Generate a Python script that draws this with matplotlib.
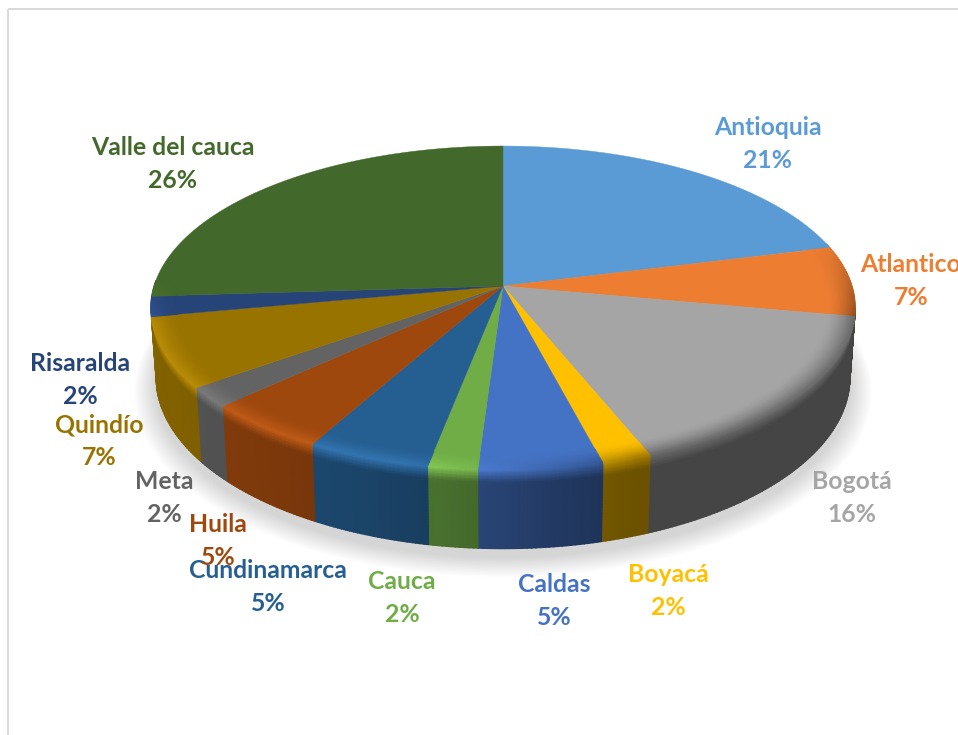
import numpy as np
import matplotlib
matplotlib.use("Agg")
import matplotlib.pyplot as plt
from matplotlib.patches import Rectangle
from matplotlib.colors import to_rgb

# departments, clockwise from 12 o'clock
departments = ["Antioquia", "Atlantico", "Bogotá", "Boyacá", "Caldas", "Cauca",
               "Cundinamarca", "Huila", "Meta", "Quindío", "Risaralda", "Valle del cauca"]
shares = [21, 7, 16, 2, 5, 2, 5, 5, 2, 7, 2, 26]

slice_colors = ["#5B9BD5", "#ED7D31", "#A5A5A5", "#FFC000", "#4472C4", "#70AD47",
                "#255E91", "#9E480E", "#636363", "#997300", "#264478", "#43682B"]

# label centres in figure pixels
label_xy = {
    "Antioquia": (768, 144), "Atlantico": (911, 281), "Bogotá": (852, 498),
    "Boyacá": (668, 591), "Caldas": (554, 601), "Cauca": (402, 598),
    "Huila": (218, 541), "Cundinamarca": (268, 587), "Meta": (164, 498),
    "Quindío": (99, 441), "Risaralda": (80, 380), "Valle del cauca": (173, 164),
}

# projection of the unit disc, tilted away from the viewer
CX, CY = 503.0, 286.0
RX, RY, TILT = 349.0, 159.0, 0.136
WALL = 68.0
BOTTOM_SCALE = 0.985
WALL_FROM, WALL_TO = 97.8, 259.0


def project(theta_deg, rho=1.0, drop=0.0):
    """Map clockwise angle from the top, radius and wall depth to pixels."""
    t = np.radians(theta_deg)
    u, v = rho * np.sin(t), rho * np.cos(t)
    w = 1 + TILT * v
    shrink = 1 - (1 - BOTTOM_SCALE) * np.clip(drop / WALL, 0, 1)
    return CX + RX * shrink * u / w, CY - RY * v / w + drop / w


def mix(a, b, f):
    return np.asarray(a) * (1 - f) + np.asarray(b) * f


def wall_factor(theta_deg):
    # the light sits on the left, so the wall gets brighter going clockwise
    return np.interp(theta_deg, [97, 160, 172, 185, 200, 220, 240, 263],
                     [0.42, 0.42, 0.50, 0.62, 0.72, 0.80, 0.84, 0.86])


def left_amount(theta_deg):
    return np.interp(theta_deg, [160, 195], [0.0, 1.0])


def fade_in(theta_deg):
    # rim shading dies out behind the widest point of the disc
    return np.interp(theta_deg, [74, 100, 255, 272], [0.0, 1.0, 1.0, 0.0])


def rim_mesh(ax, start, end, color, offsets):
    """Shaded strip along the rim; negative offsets lie on the top face."""
    base = np.array(to_rgb(color))
    thetas = np.linspace(start, end, max(int((end - start) * 1.5) + 2, 3))
    offsets = np.asarray(offsets)
    X = np.zeros((len(offsets), len(thetas)))
    Y = np.zeros_like(X)
    C = np.zeros(X.shape + (3,))
    for j, th in enumerate(thetas):
        wall_col = np.clip(base * wall_factor(th), 0, 1)
        bright = np.clip(base * 1.16 + 0.03, 0, 1)
        rim_col = mix(mix(base, wall_col, 0.62), bright, left_amount(th))
        rim_col = mix(base, rim_col, fade_in(th))
        for i, d in enumerate(offsets):
            if d <= 0:
                X[i, j], Y[i, j] = project(th, rho=1 + d / 175.0)
                f = np.clip((d + 13) / 13.0, 0, 1) ** 1.5
                C[i, j] = mix(base, rim_col, f)
            else:
                X[i, j], Y[i, j] = project(th, drop=d)
                f = np.clip(d / 11.0, 0, 1)
                C[i, j] = mix(rim_col, wall_col, f)
    ax.pcolormesh(X, Y, C, shading="gouraud", rasterized=True, zorder=3)


fig = plt.figure(figsize=(9.58, 7.35), dpi=100)
ax = fig.add_axes([0, 0, 1, 1])
ax.set_xlim(0, 958)
ax.set_ylim(735, 0)
ax.axis("off")

# outer chart frame, only its top and left sides are in view
ax.add_patch(Rectangle((8.5, 8.5), 2000, 2000, fill=False, ec="#D9D9D9", lw=1.4, zorder=0))

# soft shadow under the pie
th = np.linspace(0, 360, 361)
for grow in np.linspace(22, 1, 14):
    sx, sy = project(th, drop=WALL + 4)
    sx = CX + (sx - CX) * (1 + grow / 352.0)
    sy = CY + 4 + (sy - CY) * (1 + grow / 300.0)
    ax.fill(sx, sy, color="#808080", alpha=0.025, lw=0, zorder=1)

edges = np.concatenate([[0], np.cumsum(shares)]) * 360.0 / sum(shares)

# side wall
for k, color in enumerate(slice_colors):
    a, b = max(edges[k], WALL_FROM), min(edges[k + 1], WALL_TO)
    if b > a:
        rim_mesh(ax, a, b, color, np.linspace(0, WALL, 26))

# top face
for k, color in enumerate(slice_colors):
    arc = np.linspace(edges[k], edges[k + 1], 120)
    x, y = project(arc)
    ax.fill(np.r_[CX, x], np.r_[CY, y], color=color, lw=0.3, ec=color, zorder=2)

# shading on the outer edge of the top face
for k, color in enumerate(slice_colors):
    a, b = max(edges[k], 74.0), min(edges[k + 1], 272.0)
    if b > a:
        rim_mesh(ax, a, b, color, np.linspace(-13, 0, 12))

# data labels
plt.rcParams["font.family"] = ["Lato", "DejaVu Sans"]
for name, share, color in zip(departments, shares, slice_colors):
    lx, ly = label_xy[name]
    ax.text(lx, ly, f"{name}\n{share}%", color=color, fontsize=17.8, fontweight="bold",
            ha="center", va="center", ma="center", linespacing=1.5, zorder=5)

fig.savefig("out.png", dpi=100)
